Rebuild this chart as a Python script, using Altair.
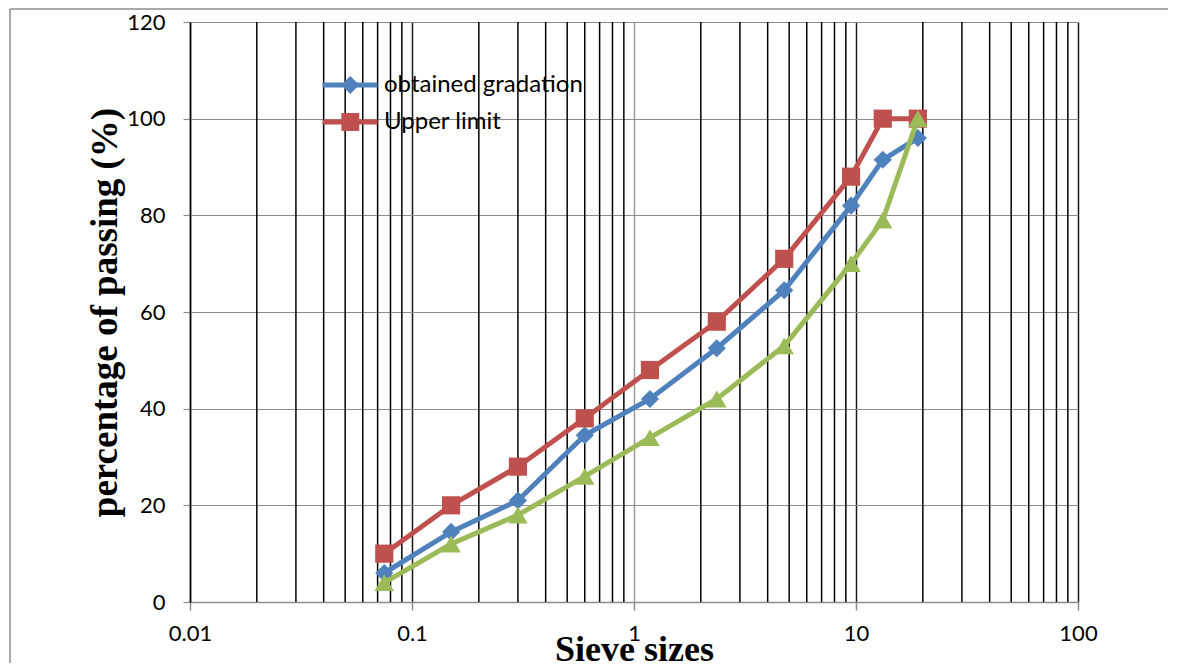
import altair as alt
import pandas as pd

# ---- data ----
sizes = [0.075, 0.15, 0.3, 0.6, 1.18, 2.36, 4.75, 9.5, 13.2, 19]
obtained = [6, 14.5, 21, 34.5, 42, 52.5, 64.5, 82, 91.5, 96]
upper = [10, 20, 28, 38, 48, 58, 71, 88, 100, 100]
lower = [4, 12, 18, 26, 34, 42, 53, 70, 79, 100]
series_names = ["obtained gradation", "Upper limit", "Lower limit"]
x_ticks = [0.01, 0.1, 1, 10, 100]
y_ticks = [0, 20, 40, 60, 80, 100, 120]
decades = [0.01, 0.1, 1, 10]
minor_multipliers = [2, 3, 4, 5, 6, 7, 8, 9]

rows = []
for name, vals in zip(series_names, [obtained, upper, lower]):
    for s, v in zip(sizes, vals):
        rows.append({"series": name, "size": s, "pct": v})
df = pd.DataFrame(rows)
main_df = df[df.series != "Lower limit"]
low_df = df[df.series == "Lower limit"]
minor_df = pd.DataFrame({"size": [m * d for d in decades for m in minor_multipliers]})

main_names = series_names[:2]
main_colors = ["#4F81BD", "#C0504D"]
green = "#9BBB59"

xscale = alt.Scale(type="log", domain=[0.01, 100], nice=False)
yscale = alt.Scale(domain=[0, 120], nice=False)

x_axis = alt.Axis(
    values=x_ticks,
    labelExpr="'' + datum.value",
    grid=True,
    gridColor={"condition": {"test": "datum.value == 1", "value": "#9a9a9a"}, "value": "#1a1a1a"},
    gridWidth=1.5,
    domainColor="#8c8c8c",
    domainWidth=1.5,
    tickColor="#8c8c8c",
    tickSize=8,
    tickWidth=1.5,
    labelFont="Lato",
    labelFontSize=22,
    labelColor="#000",
    labelPadding=13,
    labelFlush=False,
    labelOverlap=False,
    title="Sieve sizes",
    titleFont="Liberation Serif",
    titleFontWeight="bold",
    titleFontSize=36,
    titleColor="#000",
    titleY=58,
    titleBaseline="alphabetic",
)
y_axis = alt.Axis(
    values=y_ticks,
    grid=True,
    gridColor="#8c8c8c",
    gridWidth=1.2,
    domainColor="#000",
    domainWidth=1.5,
    tickColor="#8c8c8c",
    tickSize=7,
    tickWidth=1.2,
    labelFont="Lato",
    labelFontSize=22,
    labelColor="#000",
    labelPadding=18,
    title="percentage of passing (%)",
    titleFont="Liberation Serif",
    titleFontWeight="bold",
    titleFontSize=37,
    titleColor="#000",
    titleX=-85,
    titleBaseline="middle",
)

X = alt.X("size:Q", scale=xscale, axis=x_axis)
Y = alt.Y("pct:Q", scale=yscale, axis=y_axis)

minor = alt.Chart(minor_df).mark_rule(color="#000", strokeWidth=1.5).encode(x=X)

legend_common = dict(
    title=None,
    orient="none",
    legendY=51,
    padding=0,
    rowPadding=13,
    labelFont="Lato",
    labelFontSize=24,
    labelColor="#000",
    labelLimit=400,
)

lines = alt.Chart(main_df).mark_line(strokeWidth=5).encode(
    x=X,
    y=Y,
    color=alt.Color(
        "series:N",
        scale=alt.Scale(domain=main_names, range=main_colors),
        legend=alt.Legend(
            legendX=148,
            symbolType="M-3,0H3",
            symbolSize=336,
            symbolStrokeWidth=5,
            labelOffset=22,
            **legend_common,
        ),
    ),
)

pt_legend = alt.Legend(
    legendX=148.3,
    symbolSize=320,
    symbolStrokeWidth=0,
    labelOffset=22,
    labelOpacity=0,
    **legend_common,
)
points = alt.Chart(main_df).mark_point(filled=True, opacity=1, size=330).encode(
    x=X,
    y=Y,
    color=alt.Color("series:N", scale=alt.Scale(domain=main_names, range=main_colors), legend=pt_legend),
    shape=alt.Shape("series:N", scale=alt.Scale(domain=main_names, range=["diamond", "square"]), legend=pt_legend),
)

low_line = alt.Chart(low_df).mark_line(strokeWidth=5, color=green).encode(x=X, y=Y)
low_pts = alt.Chart(low_df).mark_point(filled=True, opacity=1, size=380, shape="triangle-up", color=green).encode(x=X, y=Y)

frame = alt.Chart(alt.Data(values=[{}])).mark_rule(color="#8c8c8c", strokeWidth=1.5)
border_top = frame.encode(x=alt.value(-180), x2=alt.value(1000), y=alt.value(-13), y2=alt.value(-13))
border_left = frame.encode(x=alt.value(-180), x2=alt.value(-180), y=alt.value(-13), y2=alt.value(700))

chart = (
    alt.layer(minor, lines, points, low_line, low_pts, border_top, border_left)
    .resolve_scale(color="independent", shape="independent")
    .properties(
        width=888,
        height=580,
        autosize=alt.AutoSizeParams(type="none"),
        padding={"left": 182, "top": 14, "right": 90, "bottom": 61},
        background="white",
    )
    .configure_view(stroke=None)
)

chart.save("out.html", embed_options={"renderer": "svg", "actions": False})
